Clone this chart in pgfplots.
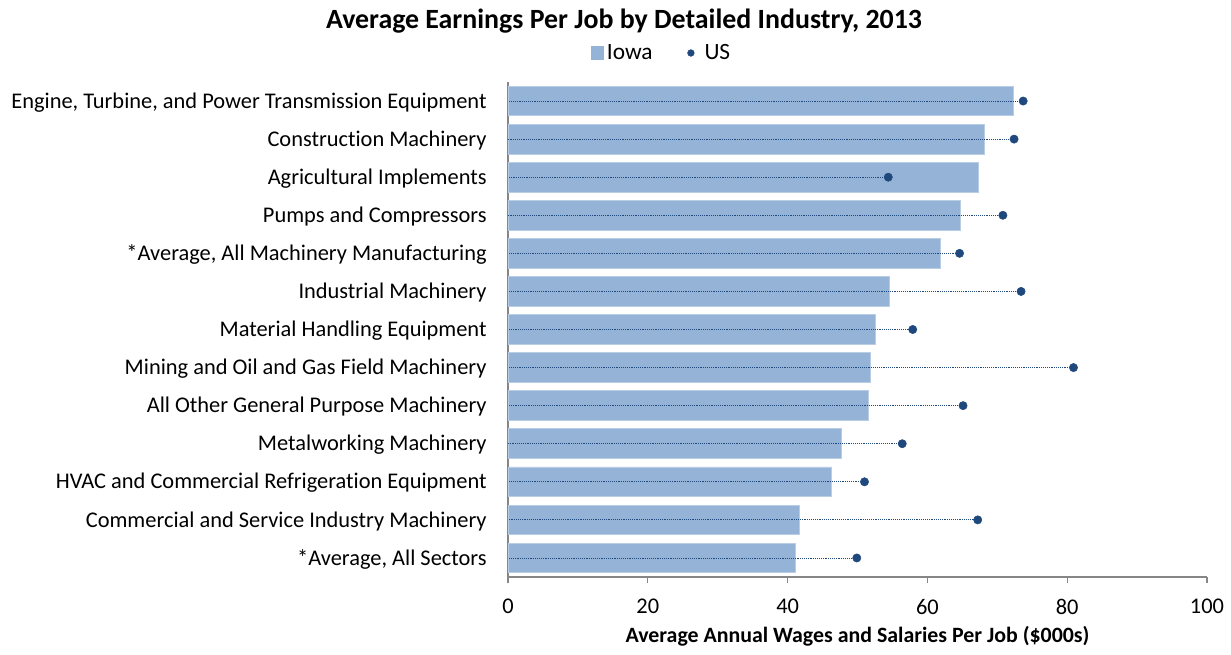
\documentclass[border=0pt]{standalone}
\usepackage{pgfplots}
\pgfplotsset{compat=1.18}
\usepackage{pgfplotstable}
\usepackage{fontspec}
\setmainfont[Ligatures={NoCommon}]{Carlito}
\definecolor{barblue}{HTML}{95B3D7}
\definecolor{baredge}{HTML}{B9CDE5}
\definecolor{dotblue}{HTML}{1F497D}
\definecolor{axisgray}{HTML}{868686}

\pgfplotstableread{
idx iowa us
12 72.3 73.7
11 68.1 72.4
10 67.3 54.4
9  64.7 70.8
8  61.8 64.6
7  54.6 73.4
6  52.5 57.9
5  51.9 80.9
4  51.5 65.1
3  47.7 56.4
2  46.3 51.0
1  41.7 67.2
0  41.1 49.9
}\data

\begin{document}
\begin{tikzpicture}
\useasboundingbox (0,0) rectangle (923.25pt,490.5pt);
\node[font=\fontsize{20.9pt}{24pt}\selectfont\bfseries] at (468pt,474.5pt) {Average Earnings Per Job by Detailed Industry, 2013};
\begin{axis}[
  at={(381pt,57.75pt)}, anchor=south west,
  width=524.25pt, height=371.25pt, scale only axis,
  xmin=0, xmax=100, ymin=-0.5, ymax=12.5,
  axis x line*=bottom, axis y line*=left,
  axis line style={axisgray, line width=0.8pt},
  xtick={0,20,40,60,80,100},
  ytick={0,1,2,3,4,5,6,7,8,9,10,11,12},
  yticklabels={{*Average, All Sectors},
    {Commercial and Service Industry Machinery},
    {HVAC and Commercial Refrigeration Equipment},
    {Metalworking Machinery},
    {All Other General Purpose Machinery},
    {Mining and Oil and Gas Field Machinery},
    {Material Handling Equipment},
    {Industrial Machinery},
    {*Average, All Machinery Manufacturing\ },
    {Pumps and Compressors},
    {Agricultural Implements},
    {Construction Machinery},
    {Engine, Turbine, and Power Transmission Equipment}},
  ytick style={draw=none},
  xtick style={axisgray, line width=0.8pt},
  tick align=outside, major tick length=4.5pt,
  /pgf/number format/assume math mode=true,
  ticklabel style={font=\fontsize{16.8pt}{19pt}\selectfont},
  yticklabel style={xshift=-8pt, yshift=-1pt},
  xticklabel style={yshift=-8.5pt},
  xlabel={Average Annual Wages and Salaries Per Job (\$000s)},
  xlabel style={font=\fontsize{16.4pt}{19pt}\selectfont\bfseries, yshift=-2pt},
  legend style={at={(axis description cs:0.22,1.0586)}, anchor=center, draw=none,
    font=\fontsize{17.5pt}{20pt}\selectfont, legend columns=2,
    /tikz/every even column/.append style={column sep=24pt},
    /tikz/every odd column/.append style={column sep=0pt}},
  clip=false,
]
\addplot[xbar, bar width=0.78, fill=barblue, draw=baredge, line width=0.6pt,
  legend image code/.code={\fill[barblue] (0pt,-4.8pt) rectangle (9.6pt,4.8pt);}]
  table[x=iowa, y=idx]{\data};
\addlegendentry{Iowa}
\addplot[only marks, mark=*, mark size=3.1pt, color=dotblue,
  legend image code/.code={\fill[dotblue] (0pt,0pt) circle (2.5pt); \path (8pt,0pt);},
  error bars/.cd, x dir=minus, x explicit, error mark=none,
  error bar style={densely dotted, line width=0.6pt, dotblue}]
  table[x=us, y=idx, x error=us]{\data};
\addlegendentry{US}
\end{axis}
\end{tikzpicture}
\end{document}
